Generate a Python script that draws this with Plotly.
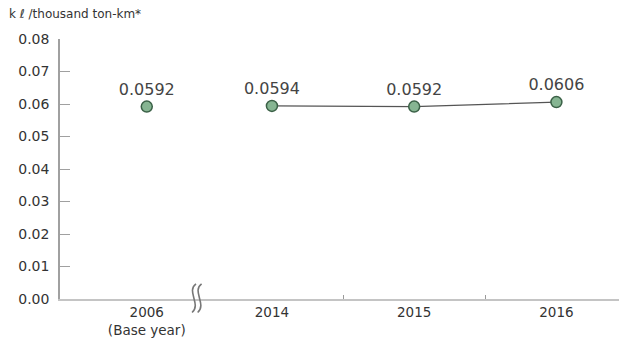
import plotly.graph_objects as go

# Data
years = ["2006<br>(Base year)", "2014", "2015", "2016"]
values = [0.0592, 0.0594, 0.0592, 0.0606]
value_labels = ["0.0592", "0.0594", "0.0592", "0.0606"]
y_ticks = [0.00, 0.01, 0.02, 0.03, 0.04, 0.05, 0.06, 0.07, 0.08]

# Horizontal placement of each year on the axis (2006 sits before the break)
x_pos = [0.12, 1, 2, 3]
break_x = 0.47

marker_style = dict(size=11, color="#86b592", line=dict(color="#3b6147", width=1.5))
text_font = dict(family="DejaVu Sans", size=16, color="#444444")

fig = go.Figure()

# Base year, shown on its own
fig.add_trace(go.Scatter(
    x=x_pos[:1], y=values[:1], mode="markers+text",
    text=value_labels[:1], textposition="top center", textfont=text_font,
    marker=marker_style, cliponaxis=False, showlegend=False,
))

# Recent years, connected
fig.add_trace(go.Scatter(
    x=x_pos[1:], y=values[1:], mode="lines+markers+text",
    text=value_labels[1:], textposition="top center", textfont=text_font,
    line=dict(color="#555555", width=1.3),
    marker=marker_style, cliponaxis=False, showlegend=False,
))

x_min, x_max = -0.49, 3.44

def dom(x):
    return (x - x_min) / (x_max - x_min)

# Axis break mark: two wavy strokes across the baseline
for dx in (-0.02, 0.02):
    cx = dom(break_x) + dx * 0.25
    fig.add_shape(
        type="path", xref="x domain", yref="y domain",
        path=(f"M {cx + 0.004} 0.058 "
              f"C {cx - 0.014} 0.03, {cx + 0.014} -0.02, {cx - 0.003} -0.052"),
        line=dict(color="#777777", width=1.6),
    )

fig.update_layout(
    width=619, height=340,
    margin=dict(l=60, r=0, t=39, b=41),
    paper_bgcolor="white", plot_bgcolor="white",
    font=dict(family="DejaVu Sans", color="#333333"),
    xaxis=dict(
        range=[x_min, x_max], tickmode="array",
        tickvals=x_pos, ticktext=years,
        ticks="", showgrid=False, zeroline=False,
        showline=True, linecolor="#c4c4c4", linewidth=2,
        tickfont=dict(size=13.5, color="#333333"),
        minor=dict(tickmode="array", tickvals=[1.5, 2.5], ticks="inside",
                   ticklen=4, tickcolor="#9a9a9a", tickwidth=1, showgrid=False),
    ),
    yaxis=dict(
        range=[0, 0.08], tickmode="array", tickvals=y_ticks,
        ticktext=[f"{v:.2f}" for v in y_ticks],
        ticks="inside", ticklen=10, tickcolor="#a0a0a0", tickwidth=1,
        showgrid=False, zeroline=False,
        showline=True, linecolor="#a0a0a0", linewidth=1.5,
        tickfont=dict(size=14, color="#333333"),
        ticklabelstandoff=6,
    ),
    annotations=[dict(
        text="k \u2113 /thousand ton-km*", xref="paper", yref="paper",
        x=-0.095, y=1.0, yshift=16, xanchor="left", yanchor="bottom",
        showarrow=False, font=dict(family="DejaVu Sans", size=12, color="#333333"),
    )],
)

fig.write_html("out.html")
